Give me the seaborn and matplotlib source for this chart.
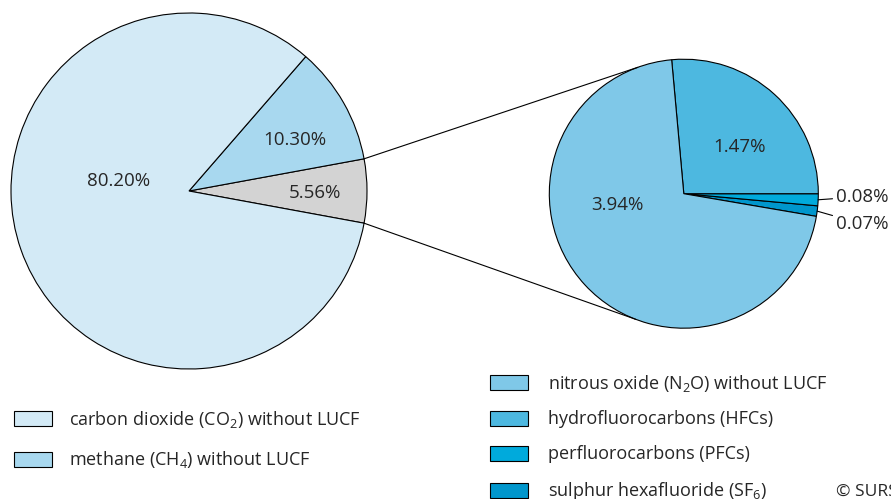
import numpy as np
import matplotlib.pyplot as plt
import seaborn as sns
from matplotlib.patches import ConnectionPatch

sns.set_theme(style="white")
plt.rcParams["font.family"] = ["Open Sans", "DejaVu Sans"]
plt.rcParams["mathtext.fontset"] = "custom"
plt.rcParams["mathtext.rm"] = "Open Sans"
plt.rcParams["mathtext.it"] = "Open Sans:italic"

# ----- data -----
main_labels = ["carbon dioxide (CO$_2$) without LUCF",
               "methane (CH$_4$) without LUCF",
               "other gases"]
main_values = [80.20, 10.30, 5.56]
main_colors = ["#d3eaf6", "#a8d8ef", "#d3d3d3"]

sub_labels = ["nitrous oxide (N$_2$O) without LUCF",
              "hydrofluorocarbons (HFCs)",
              "perfluorocarbons (PFCs)",
              "sulphur hexafluoride (SF$_6$)"]
sub_values = [3.94, 1.47, 0.08, 0.07]
sub_colors = ["#7fc8e8", "#4db8e0", "#00aadc", "#0096cc"]

# label placement (radius, angle in degrees)
main_label_pos = [(0.40, 172), (0.66, 26), (0.71, -1)]
sub_label_pos = [(0.50, 190), (0.54, 40)]

W, H = 891, 499
fig = plt.figure(figsize=(W / 100, H / 100), dpi=100)


def px_axes(cx, cy, r):
    return fig.add_axes([(cx - r) / W, (H - cy - r) / H, 2 * r / W, 2 * r / H])


ax_main = px_axes(189, 191, 178)
ax_sub = px_axes(683.8, 193.7, 134.5)
wp = dict(edgecolor="black", linewidth=0.8)
lab_fs = 13.5

# ----- big pie: other gases, methane, CO2 counterclockwise -----
order = [2, 1, 0]
start = -main_values[2] / sum(main_values) * 360 / 2
wedges_main, _ = ax_main.pie([main_values[i] for i in order],
                             colors=[main_colors[i] for i in order],
                             startangle=start, wedgeprops=wp)
w_by_cat = {i: w for i, w in zip(order, wedges_main)}
for i, v in enumerate(main_values):
    r, a = main_label_pos[i]
    ax_main.text(r * np.cos(np.radians(a)), r * np.sin(np.radians(a)), f"{v:.2f}%",
                 ha="center", va="center", fontsize=lab_fs)

# ----- small pie: SF6, PFC, HFC, N2O counterclockwise -----
sorder = [3, 2, 1, 0]
sstart = -(sub_values[2] + sub_values[3]) / sum(sub_values) * 360
wedges_sub, _ = ax_sub.pie([sub_values[i] for i in sorder],
                           colors=[sub_colors[i] for i in sorder],
                           startangle=sstart, wedgeprops=wp)
s_by_cat = {i: w for i, w in zip(sorder, wedges_sub)}
for i in range(2):
    r, a = sub_label_pos[i]
    ax_sub.text(r * np.cos(np.radians(a)), r * np.sin(np.radians(a)), f"{sub_values[i]:.2f}%",
                ha="center", va="center", fontsize=lab_fs)

for i, ty in [(2, -0.022), (3, -0.225)]:
    w = s_by_cat[i]
    mid = np.radians((w.theta1 + w.theta2) / 2)
    ax_sub.annotate(f"{sub_values[i]:.2f}%", xy=(np.cos(mid), np.sin(mid)), xytext=(1.13, ty),
                    ha="left", va="center", fontsize=lab_fs, annotation_clip=False,
                    arrowprops=dict(arrowstyle="-", lw=0.8, color="black", shrinkA=0, shrinkB=0))

for ax in (ax_main, ax_sub):
    ax.set_xlim(-1, 1)
    ax.set_ylim(-1, 1)
    for p in ax.patches:
        p.set_clip_on(False)

# ----- connection lines -----
g = w_by_cat[2]
for ta, tb in [(g.theta2, 110), (g.theta1, -111)]:
    con = ConnectionPatch(xyA=(np.cos(np.radians(ta)), np.sin(np.radians(ta))), coordsA=ax_main.transData,
                          xyB=(np.cos(np.radians(tb)), np.sin(np.radians(tb))), coordsB=ax_sub.transData,
                          color="black", lw=0.8)
    fig.add_artist(con)

# ----- legends -----
leg_fs = 13
fs_px = leg_fs * 100 / 72
leg_kw = dict(frameon=False, fontsize=leg_fs, handlelength=38 / fs_px, handleheight=16 / fs_px,
              borderpad=0, borderaxespad=0, loc="upper left")
fig.legend(handles=[w_by_cat[0], w_by_cat[1]], labels=main_labels[:2],
           bbox_to_anchor=(14 / W, 1 - 408.5 / H), handletextpad=17 / fs_px,
           labelspacing=1.1, **leg_kw)
fig.legend(handles=[s_by_cat[i] for i in range(4)], labels=sub_labels,
           bbox_to_anchor=(490 / W, 1 - 372.5 / H), handletextpad=20 / fs_px,
           labelspacing=0.94, **leg_kw)

fig.text(836 / W, 1 - 492 / H, "© SURS", fontsize=12.5, ha="left", va="center")

fig.savefig("out.png", dpi=100)
